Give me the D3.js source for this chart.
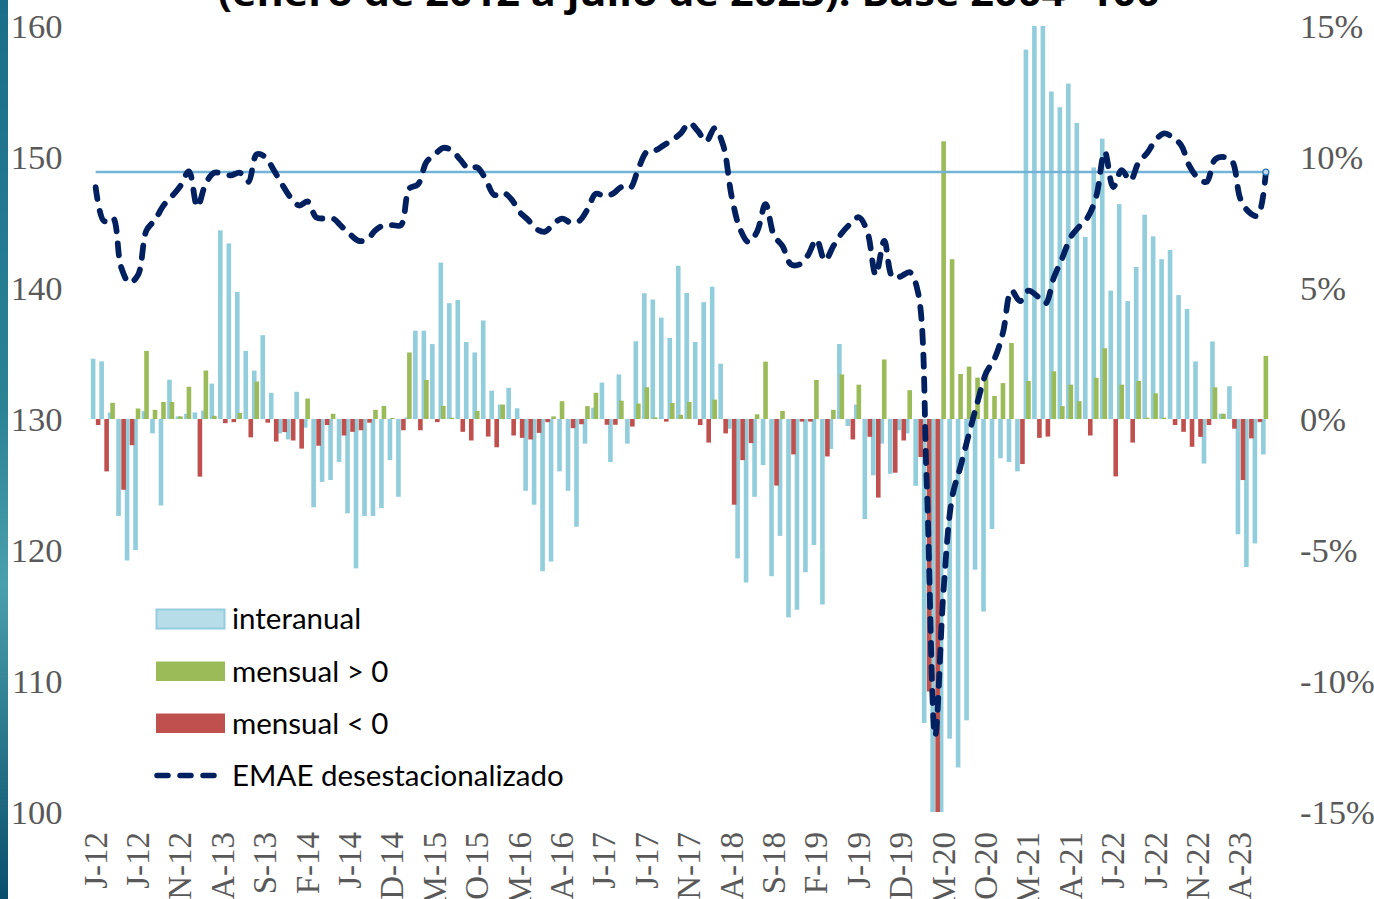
<!DOCTYPE html>
<html>
<head>
<meta charset="utf-8">
<script src="https://cdn.jsdelivr.net/npm/d3@7"></script>
<style>
  body { margin: 0; background: #fff; overflow: hidden; }
</style>
</head>
<body>
<svg id="chart" width="1374" height="899"></svg>
<script>
// ---- data ----
const monthInitials = ["J","F","M","A","M","J","J","A","S","O","N","D"]
const firstYear = 2012
const nMonths = 139   // enero 2012 .. julio 2023
const tickEvery = 5

// variacion interanual, %
const interanual = [
  2.3, 2.2, 0.25, -3.7, -5.4, -5.0, 0.3, -0.55, -3.3, 1.5, 0.1, 0.2,
  0.25, 0.32, 1.35, 7.2, 6.7, 4.85, 2.6, 1.85, 3.2, 1.0, -0.55, -0.78,
  1.04, -0.33, -3.37, -2.4, -2.33, -1.64, -3.6, -5.7, -3.7, -3.7, -3.4, -1.57,
  -2.97, 0.06, 3.37, 3.37, 2.86, 5.97, 4.42, 4.54, 2.94, 2.54, 3.76, 1.08,
  0.55, 1.19, 0.41, -2.74, -3.27, -5.81, -5.44, -2.0, -2.74, -4.11, -0.94, 0.43,
  1.39, -1.64, 1.7, -0.94, 2.97, 4.8, 4.56, 3.87, 3.09, 5.85, 4.81, 2.94,
  4.46, 5.05, 2.11, -0.37, -5.32, -6.24, -2.97, -1.76, -6.0, -4.46, -7.57, -7.28,
  -5.85, -4.81, -7.08, -1.14, 2.86, -0.27, 0.55, -3.82, -2.15, -0.94, -2.09, -0.43,
  -0.55, -2.55, -11.6, -25.5, -20.0, -12.2, -13.3, -11.5, -5.75, -7.35, -4.2, -1.5,
  -1.64, -2.0, 14.1, 29.5, 16.0, 12.5, 11.9, 12.8, 11.3, 6.95, 9.6, 10.7,
  4.9, 8.2, 4.5, 5.8, 7.8, 6.97, 6.1, 6.45, 4.73, 4.2, 2.2, -1.7,
  2.96, 0.2, 1.25, -4.4, -5.65, -4.75, -1.35
]

// variacion mensual desestacionalizada, %
const mensual = [
  -0.23, -2.0, 0.62, -2.7, -1.0, 0.4, 2.6, 0.35, 0.65, 0.65, 0.1, 1.23,
  -2.2, 1.85, 0.12, -0.16, -0.12, 0.23, -0.7, 1.43, -0.14, -0.86, -0.5, -0.82,
  -1.13, 0.78, -1.02, -0.23, 0.2, -0.63, -0.49, -0.43, -0.14, 0.35, 0.5, 0.04,
  -0.43, 2.54, -0.43, 1.49, -0.12, 0.5, 0.05, -0.49, -0.82, 0.31, -0.67, -1.08,
  0.55, -0.63, -0.72, -0.78, -0.53, -0.12, 0.1, 0.68, -0.35, -0.2, 0.49, 1.0,
  -0.22, -0.22, 0.7, -0.29, 0.59, 1.21, 0.06, -0.1, 0.61, 0.16, 0.65, -0.23,
  -0.9, 0.74, -0.55, -3.27, -1.57, -0.92, 0.18, 2.19, -2.54, 0.31, -1.35, -0.1,
  -0.1, 1.49, -1.43, 0.35, 1.7, -0.78, 1.31, -0.68, -3.0, 2.27, -2.05, -0.82,
  1.1, -1.45, -10.4, -16.5, 10.6, 6.1, 1.72, 2.0, 1.58, 1.86, 0.88, 1.37,
  2.9, -1.72, 1.45, -0.72, -0.67, 1.82, 0.49, 1.31, 0.68, -0.63, 1.57, 2.7,
  -2.19, 1.31, -0.9, 1.45, 0.05, 0.98, 0.05, -0.23, -0.49, -1.06, -0.68, -0.23,
  1.21, 0.2, -0.37, -2.33, -0.74, -0.12, 2.41
]

// EMAE desestacionalizado, base 2004=100
const emae = [
  147.7, 145.1, 145.4, 141.6, 140.4, 141.0, 144.4, 145.2, 146.3, 147.0, 147.8, 148.9,
  146.2, 148.0, 148.8, 148.7, 148.6, 148.8, 148.1, 150.2, 150.0, 149.0, 147.9, 146.9,
  146.3, 146.6, 145.4, 145.3, 145.3, 144.7, 144.1, 143.6, 143.7, 144.4, 144.8, 144.8,
  144.8, 147.6, 147.9, 149.6, 150.2, 150.7, 150.5, 149.8, 149.1, 149.2, 148.3, 147.1,
  147.3, 146.8, 145.8, 145.2, 144.5, 144.3, 144.9, 145.3, 145.0, 145.1, 146.0, 147.2,
  147.0, 147.2, 147.7, 147.6, 149.1, 150.4, 150.5, 150.9, 151.3, 151.8, 152.6, 152.0,
  151.2, 152.2, 150.9, 147.0, 144.5, 143.5, 144.3, 146.4, 144.0, 143.2, 141.8, 141.8,
  142.5, 143.7, 142.1, 143.2, 144.2, 144.9, 145.4, 144.3, 141.0, 143.6, 140.8, 140.9,
  141.2, 139.6, 125.3, 105.8, 117.0, 124.0, 126.4, 128.9, 131.3, 133.5, 134.6, 136.6,
  139.8, 139.0, 139.8, 139.4, 138.8, 140.8, 142.3, 143.9, 144.7, 145.4, 147.0, 150.4,
  147.7, 149.0, 148.2, 149.6, 150.3, 151.3, 151.8, 151.5, 150.9, 149.3, 148.4, 148.1,
  149.8, 150.0, 149.7, 146.8, 145.8, 145.5, 148.85
]

const leftTicks = [100, 110, 120, 130, 140, 150, 160]
const rightTicks = [-15, -10, -5, 0, 5, 10, 15]
const legendLabels = ["interanual", "mensual > 0", "mensual < 0", "EMAE desestacionalizado"]
const titleText = "(enero de 2012 a julio de 2023). Base 2004=100"

// ---- setup ----
const categories = d3.range(nMonths).map(i => {
  let y = firstYear + Math.floor(i / 12)
  return monthInitials[i % 12] + "-" + String(y).slice(2) + "|" + i
})
const refLevel = emae[emae.length - 1]

const plot = {left: 91.4, right: 1270.1, top: 26, bottom: 812}

const svg = d3.select("#chart")

// slide background strip on the left
const defs = svg.append("defs")
const grad = defs.append("linearGradient").attr("id", "strip")
  .attr("x1", 0).attr("x2", 0).attr("y1", 0).attr("y2", 1)
grad.append("stop").attr("offset", "0%").attr("stop-color", "#1a6e89")
grad.append("stop").attr("offset", "45%").attr("stop-color", "#2b8295")
grad.append("stop").attr("offset", "65%").attr("stop-color", "#4a9fac")
grad.append("stop").attr("offset", "100%").attr("stop-color", "#0a4e6c")
svg.append("rect").attr("x", 0).attr("y", 0).attr("width", 8).attr("height", 899)
  .attr("fill", "url(#strip)")

defs.append("clipPath").attr("id", "plotclip")
  .append("rect")
  .attr("x", plot.left - 5).attr("y", plot.top)
  .attr("width", plot.right - plot.left + 10).attr("height", plot.bottom - plot.top)

const x = d3.scaleBand().domain(categories).range([plot.left, plot.right]).padding(0)
const yL = d3.scaleLinear().domain([100, 160]).range([plot.bottom, plot.top])
const yR = d3.scaleLinear().domain([-15, 15]).range([plot.bottom, plot.top])

const cx = c => x(c) + x.bandwidth() / 2
const barW = 4.6
const shift = 2.5

// ---- bars ----
const bars = svg.append("g").attr("clip-path", "url(#plotclip)")

bars.selectAll(".ia").data(categories).enter().append("rect")
  .attr("class", "ia")
  .attr("x", c => cx(c) - shift - barW / 2)
  .attr("width", barW)
  .attr("y", (c, i) => yR(Math.max(0, interanual[i])))
  .attr("height", (c, i) => Math.abs(yR(interanual[i]) - yR(0)))
  .attr("fill", "#92cddc")

bars.selectAll(".mp").data(categories.filter((c, i) => mensual[i] > 0)).enter().append("rect")
  .attr("class", "mp")
  .attr("x", c => cx(c) - barW / 2)
  .attr("width", barW)
  .attr("y", c => yR(mensual[categories.indexOf(c)]))
  .attr("height", c => yR(0) - yR(mensual[categories.indexOf(c)]))
  .attr("fill", "#9bbb59")

bars.selectAll(".mn").data(categories.filter((c, i) => mensual[i] < 0)).enter().append("rect")
  .attr("class", "mn")
  .attr("x", c => cx(c) + shift - barW / 2)
  .attr("width", barW)
  .attr("y", yR(0))
  .attr("height", c => yR(mensual[categories.indexOf(c)]) - yR(0))
  .attr("fill", "#c0504d")

// ---- reference level (last EMAE value) ----
svg.append("line")
  .attr("x1", cx(categories[0])).attr("x2", cx(categories[nMonths - 1]))
  .attr("y1", yL(refLevel)).attr("y2", yL(refLevel))
  .attr("stroke", "#74b3d8").attr("stroke-width", 2.5)

// ---- EMAE line ----
const line = d3.line()
  .x((d, i) => cx(categories[i]))
  .y(d => yL(d))
  .curve(d3.curveCatmullRom.alpha(0.5))

svg.append("path")
  .datum(emae)
  .attr("d", line)
  .attr("fill", "none")
  .attr("stroke", "#002060")
  .attr("stroke-width", 5.8)
  .attr("stroke-dasharray", "12,12")
  .attr("stroke-linecap", "round")

svg.append("circle")
  .attr("cx", cx(categories[nMonths - 1])).attr("cy", yL(refLevel)).attr("r", 3)
  .attr("fill", "#bdd7ee").attr("stroke", "#2e75b6").attr("stroke-width", 1.2)

// ---- axes ----
const axisFont = "'Liberation Serif', 'Times New Roman', serif"

const gl = svg.append("g").attr("transform", "translate(" + plot.left + ",0)")
  .call(d3.axisLeft(yL).tickValues(leftTicks).tickSize(0).tickPadding(29))
gl.select(".domain").remove()
gl.selectAll("text").attr("font-family", axisFont).attr("font-size", 34.5).attr("fill", "#595959")

const gr = svg.append("g").attr("transform", "translate(" + plot.right + ",0)")
  .call(d3.axisRight(yR).tickValues(rightTicks).tickSize(0).tickPadding(30)
    .tickFormat(d => d + "%"))
gr.select(".domain").remove()
gr.selectAll("text").attr("font-family", axisFont).attr("font-size", 34.5).attr("fill", "#595959")

const gx = svg.append("g").attr("transform", "translate(0," + plot.bottom + ")")
  .call(d3.axisBottom(x)
    .tickValues(categories.filter((c, i) => i % tickEvery === 0))
    .tickFormat(c => c.split("|")[0])
    .tickSize(0))
gx.select(".domain").remove()
gx.selectAll("text")
  .attr("font-family", axisFont).attr("font-size", 33).attr("fill", "#595959")
  .attr("transform", "rotate(-90)")
  .attr("x", -20).attr("y", 0).attr("dy", "0.33em")
  .attr("text-anchor", "end")

// ---- title (second line, cut by the frame) ----
svg.append("text")
  .attr("x", 689).attr("y", 6)
  .attr("text-anchor", "middle")
  .attr("font-family", "'Open Sans', Lato, sans-serif")
  .attr("font-weight", "bold")
  .attr("font-size", 37)
  .attr("textLength", 942)
  .attr("lengthAdjust", "spacingAndGlyphs")
  .attr("fill", "#000")
  .text(titleText)

// ---- legend ----
const legFont = "Lato, 'Open Sans', sans-serif"
const leg = svg.append("g")
const rowY = [618.5, 671, 723, 775.5]

leg.append("rect").attr("x", 156.5).attr("y", 609.5).attr("width", 68).attr("height", 19)
  .attr("fill", "#b7dee8").attr("stroke", "#93cddd").attr("stroke-width", 2)
leg.append("rect").attr("x", 156).attr("y", 661.5).attr("width", 69).attr("height", 19.5)
  .attr("fill", "#9bbb59")
leg.append("rect").attr("x", 156).attr("y", 713.5).attr("width", 69).attr("height", 19.5)
  .attr("fill", "#c0504d")
leg.append("line").attr("x1", 157).attr("x2", 220).attr("y1", rowY[3]).attr("y2", rowY[3])
  .attr("stroke", "#002060").attr("stroke-width", 5.5)
  .attr("stroke-dasharray", "11,12").attr("stroke-linecap", "round")

leg.selectAll(".lt").data(legendLabels).enter().append("text")
  .attr("class", "lt")
  .attr("x", 232)
  .attr("y", (d, i) => rowY[i])
  .attr("dy", "0.36em")
  .attr("font-family", legFont)
  .attr("font-size", 29.5)
  .attr("fill", "#000")
  .text(d => d)
</script>
</body>
</html>
